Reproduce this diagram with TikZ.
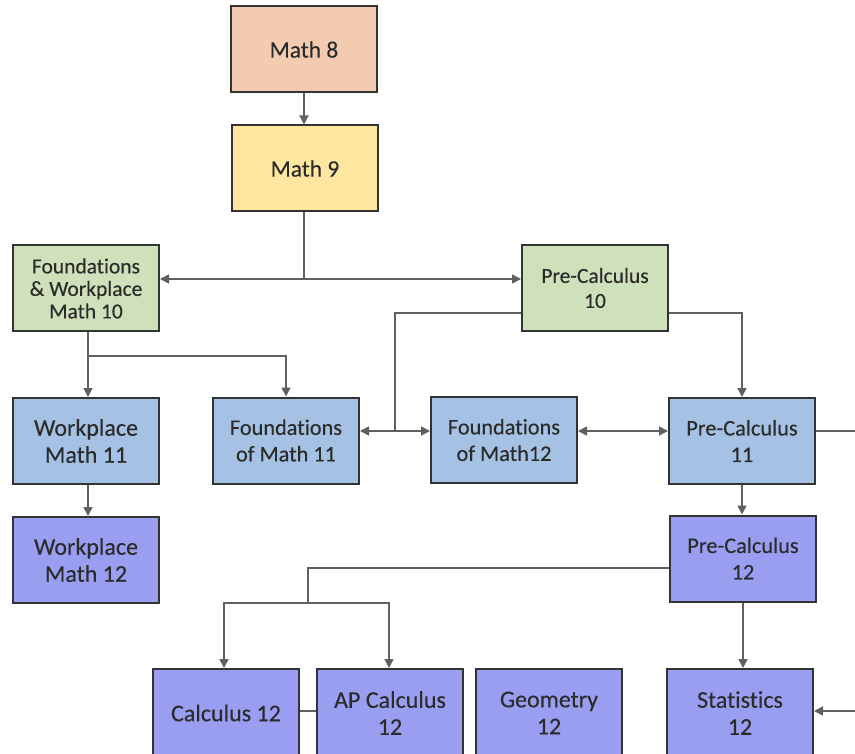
\documentclass[tikz,border=0pt]{standalone}
\usepackage{fontspec}
\setmainfont{Carlito}[Ligatures=NoCommon, FakeBold=0.25]
\usetikzlibrary{arrows.meta,calc}
\definecolor{cpeach}{HTML}{F3CBB0}
\definecolor{cyellow}{HTML}{FCE6A0}
\definecolor{cgreen}{HTML}{CEE1BA}
\definecolor{cblue}{HTML}{A5C2E4}
\definecolor{cpurple}{HTML}{999EF0}
\definecolor{cline}{HTML}{606060}
\definecolor{cborder}{HTML}{333333}
\definecolor{ctext}{HTML}{2B2B2B}
\tikzset{
  box/.style={draw=cborder, line width=2pt, minimum width=146pt, minimum height=86pt,
    inner sep=2pt, align=center, text=ctext, font=\fontsize{22.3}{26.5}\selectfont},
  smallbox/.style={box, font=\fontsize{21.5}{22.5}\selectfont},
  bigbox/.style={box, font=\fontsize{24}{27}\selectfont},
  conn/.style={draw=cline, line width=1.5pt},
  arr/.style={conn, -{Triangle[length=9pt,width=9pt]}},
  arrb/.style={conn, {Triangle[length=9pt,width=9pt]}-{Triangle[length=9pt,width=9pt]}},
}
\begin{document}
\begin{tikzpicture}[x=1pt,y=-1pt]
\useasboundingbox (0,0) rectangle (855,754);
\clip (0,0) rectangle (855,754);
\fill[white] (0,0) rectangle (855,754);
% nodes
\node[box, fill=cpeach, font=\fontsize{23.5}{27}\selectfont] (m8) at (304,49.5) {Math 8};
\node[box, fill=cyellow, font=\fontsize{23.5}{27}\selectfont] (m9) at (305,168.5) {Math 9};
\node[smallbox, fill=cgreen] (fw10) at (86,288.5) {Foundations\\\& Workplace\\Math 10};
\node[smallbox, fill=cgreen, font=\fontsize{21.5}{25}\selectfont] (pc10) at (595,288) {Pre-Calculus\\10};
\node[bigbox, fill=cblue] (wm11) at (86,441) {Workplace\\Math 11};
\node[box, fill=cblue] (fm11) at (286,440.5) {Foundations\\of Math 11};
\node[box, fill=cblue] (fm12) at (504,440) {Foundations\\of Math12};
\node[box, fill=cblue] (pc11) at (742,441) {Pre-Calculus\\11};
\node[bigbox, fill=cpurple] (wm12) at (86,560) {Workplace\\Math 12};
\node[box, fill=cpurple] (pc12) at (743,558.5) {Pre-Calculus\\12};
\node[bigbox, fill=cpurple, minimum height=88pt] (calc) at (226,713) {Calculus 12};
\node[bigbox, fill=cpurple, minimum height=88pt] (ap) at (390,713) {AP Calculus\\12};
\node[bigbox, fill=cpurple, minimum height=88pt] (geo) at (549,713) {Geometry\\12};
\node[bigbox, fill=cpurple, minimum height=88pt] (stats) at (740,713) {Statistics\\12};
% junction coordinates
\coordinate (j1) at (304,279);
\coordinate (j2) at (395,313);
\coordinate (j3) at (395,431);
\coordinate (j4) at (88,356);
\coordinate (j5) at (308,568);
\coordinate (j6) at (308,603);
\coordinate (r1) at (856,431);
\coordinate (r2) at (856,711);
% connectors
\draw[arr] (m8.south -| m8) -- (m9.north -| m8);
\draw[conn] (m9.south -| j1) -- (j1);
\draw[arr] (j1) -- (fw10.east |- j1);
\draw[arr] (j1) -- (pc10.west |- j1);
\draw[conn] (pc10.west |- j2) -- (j2) -- (j3);
\draw[arr] (j3) -- (fm11.east |- j3);
\draw[arr] (j3) -- (fm12.west |- j3);
\draw[arr] (pc10.east |- j2) -| (pc11.north);
\draw[conn] (fw10.south -| j4) -- (j4);
\draw[arr] (j4) -- (wm11.north -| j4);
\draw[arr] (j4) -| (fm11.north);
\draw[arrb] (fm12.east |- j3) -- (pc11.west |- j3);
\draw[conn] (pc11.east |- r1) -- (r1);
\draw[arr] (pc11.south) -- (pc11.south |- pc12.north);
\draw[arr] (wm11.south -| j4) -- (wm12.north -| j4);
\draw[conn] (pc12.west |- j5) -- (j5) -- (j6);
\draw[arr] (j6) -| ($(calc.north)+(-2,0)$);
\draw[arr] (j6) -| ($(ap.north)+(-1,0)$);
\draw[arr] (pc12.south) -- (pc12.south |- stats.north);
\draw[arr] (r2) -- (stats.east |- r2);
\draw[conn] (calc.east |- r2) -- (ap.west |- r2);
\end{tikzpicture}
\end{document}
